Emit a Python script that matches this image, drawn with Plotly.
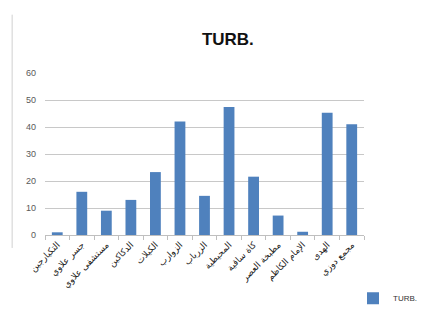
import plotly.graph_objects as go

# Sampling sites and turbidity readings
sites = [
    "التكيارجين",
    "جسر علاوي",
    "مستشفى علاوي",
    "الدكاكين",
    "الكيلات",
    "الزوارب",
    "الزرباب",
    "المحيطية",
    "كاة ساقية",
    "مطبخة العصر",
    "الإمام الكاظم",
    "الهدى",
    "مجمع دوزي",
]
turb = [1, 16, 9, 13, 23.3, 42, 14.5, 47.4, 21.6, 7.2, 1.2, 45.3, 41]
y_ticks = [0, 10, 20, 30, 40, 50, 60]

fig = go.Figure(
    go.Bar(
        x=sites,
        y=turb,
        name="TURB.",
        marker=dict(color="#4f81bd", line=dict(width=0)),
    )
)

fig.update_layout(
    width=422,
    height=323,
    margin=dict(l=45, r=58, t=73, b=88, autoexpand=False),
    paper_bgcolor="white",
    plot_bgcolor="white",
    bargap=0.56,
    showlegend=True,
    title=dict(
        text="<b>TURB.</b>",
        x=0.54,
        xanchor="center",
        y=0.878,
        yanchor="middle",
        font=dict(family="Liberation Sans Narrow, Liberation Sans", size=17, color="#111111"),
    ),
    legend=dict(
        xref="container",
        yref="container",
        x=1.02,
        y=0.077,
        xanchor="right",
        yanchor="middle",
        font=dict(family="Liberation Sans", size=8, color="#333333"),
        bgcolor="rgba(0,0,0,0)",
        itemwidth=30,
    ),
    font=dict(family="Liberation Sans"),
)

fig.update_xaxes(
    type="category",
    tickangle=-45,
    tickfont=dict(family="DejaVu Sans", size=9, color="#222222"),
    showline=True,
    linecolor="#bfbfbf",
    linewidth=1,
    ticks="outside",
    tickcolor="#bfbfbf",
    ticklen=4,
    tickson="boundaries",
    showgrid=False,
    automargin=False,
)

fig.update_yaxes(
    range=[0, 60],
    tickvals=y_ticks,
    tickfont=dict(family="Liberation Sans", size=9, color="#595959"),
    showgrid=True,
    gridcolor="#c8c8c8",
    gridwidth=1,
    zeroline=False,
    showline=False,
    ticklabelstandoff=8,
    automargin=False,
)

# Thin chart border on the left edge
fig.add_shape(
    type="line",
    xref="paper",
    yref="paper",
    x0=-0.103,
    x1=-0.103,
    y0=-0.08,
    y1=1.36,
    line=dict(color="#d0d0d0", width=1),
)

fig.write_html("out.html")
